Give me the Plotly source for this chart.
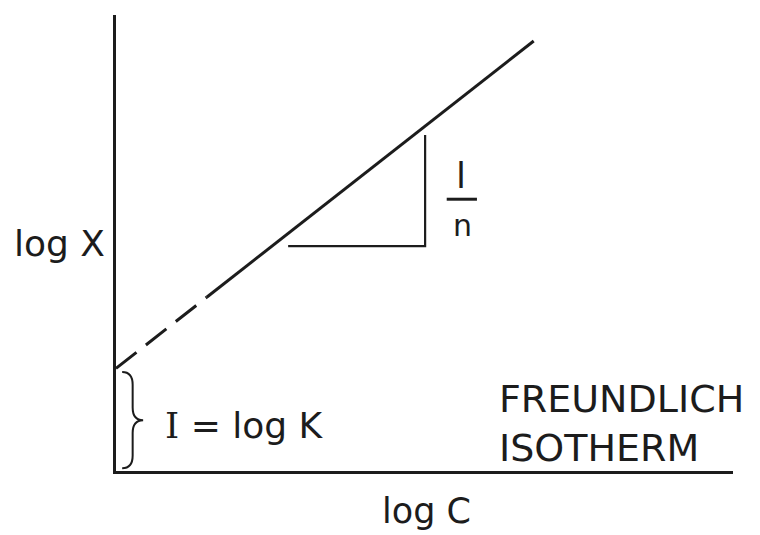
import plotly.graph_objects as go

# Freundlich isotherm: log X = log K + (1/n) log C
log_k = 2.25                      # intercept on the log X axis
extrap_c = [0.0, 1.47]            # extrapolated part (dashed)
extrap_x = [2.25, 3.81]
measured_c = [1.47, 6.77]         # measured range (solid)
measured_x = [3.81, 9.43]

# slope triangle (run then rise)
tri_c = [2.79, 5.01, 5.01]
tri_x = [4.93, 4.93, 7.37]

INK = "#1c1c1c"
FONT = "DejaVu Sans"

fig = go.Figure()

fig.add_trace(go.Scatter(
    x=extrap_c, y=extrap_x, mode="lines",
    line=dict(color=INK, width=3, dash="26px,12px"),
    hoverinfo="skip", showlegend=False))
fig.add_trace(go.Scatter(
    x=measured_c, y=measured_x, mode="lines",
    line=dict(color=INK, width=3),
    hoverinfo="skip", showlegend=False))
fig.add_trace(go.Scatter(
    x=tri_c, y=tri_x, mode="lines",
    line=dict(color=INK, width=2.2),
    hoverinfo="skip", showlegend=False))

# curly brace marking the intercept from 0 to log K
x0, xm, xt = 0.10, 0.27, 0.44
y0, y1 = 0.06, log_k - 0.08
ym = (y0 + y1) / 2
d = 0.28
brace = (f"M {x0},{y1} Q {xm},{y1} {xm},{y1 - d} "
         f"L {xm},{ym + d} Q {xm},{ym} {xt},{ym} "
         f"Q {xm},{ym} {xm},{ym - d} "
         f"L {xm},{y0 + d} Q {xm},{y0} {x0},{y0}")
fig.add_shape(type="path", path=brace, xref="x", yref="y",
              line=dict(color=INK, width=2))

# fraction bar of 1/n
fig.add_shape(type="line", x0=5.36, x1=5.85, y0=5.96, y1=5.96,
              xref="x", yref="y", line=dict(color=INK, width=3))

def label(text, x, y, size, xanchor="center", xref="x", yref="y",
          xshift=0, align="center"):
    fig.add_annotation(text=text, x=x, y=y, xref=xref, yref=yref,
                       xanchor=xanchor, yanchor="middle", xshift=xshift,
                       showarrow=False, align=align,
                       font=dict(family=FONT, size=size, color=INK))

label("l", 5.59, 6.47, 36)
label("n", 5.61, 5.39, 30)
label("log X", 0, 5.0, 36, xanchor="right", xref="paper", xshift=-9)
label("log C", 5.04, -0.088, 35, yref="paper")
label("<span style='font-family:DejaVu Serif'>I</span> = log K", 0.76, 0.99, 36,
      xanchor="left")
label("FREUNDLICH<br>ISOTHERM", 6.18, 1.05, 38, xanchor="left", align="left")

axis_common = dict(range=[0, 10], showgrid=False, zeroline=False,
                   showticklabels=False, ticks="", showline=True,
                   linecolor=INK, linewidth=3, fixedrange=True)

fig.update_layout(
    width=760, height=535,
    margin=dict(l=116, r=27, t=15, b=64),
    paper_bgcolor="white", plot_bgcolor="white",
    xaxis=axis_common, yaxis=axis_common,
    showlegend=False,
)

fig.write_html("out.html")
